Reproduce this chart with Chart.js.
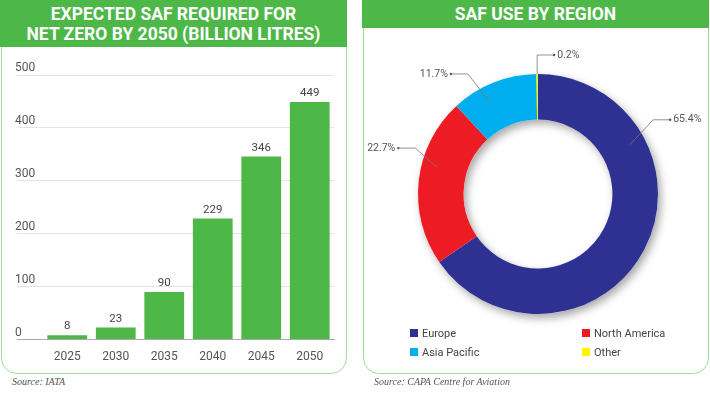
<!DOCTYPE html>
<html>
<head>
<meta charset="utf-8">
<script src="https://cdn.jsdelivr.net/npm/chart.js@4.4.1/dist/chart.umd.min.js"></script>
<style>
  body { margin: 0; width: 710px; height: 394px; background: #fff; position: relative; overflow: hidden; font-family: Roboto, sans-serif; }
  .panel { position: absolute; top: 0; height: 374px; border: 1.5px solid #a5da9f; border-radius: 0 0 16px 16px; box-sizing: border-box; }
  .head { position: absolute; top: 0; background: #4db848; color: #fff; font-weight: 700; text-align: center; font-size: 17.5px; }
  #leftHead { left: 0; width: 347px; height: 47px; line-height: 20px; padding-top: 4px; box-sizing: border-box; }
  #rightHead { left: 362px; width: 347px; height: 28px; line-height: 28px; }
  canvas { position: absolute; }
  .source { position: absolute; top: 376px; font: italic 10px "Liberation Serif", serif; color: #555; }
  #legend { position: absolute; left: 410px; top: 326px; display: grid; grid-template-columns: 172px 120px; row-gap: 5px; font-size: 11px; color: #444; }
  #legend div { display: flex; align-items: center; height: 14px; }
  #legend span { display: inline-block; width: 8px; height: 8px; margin-right: 4px; }
</style>
</head>
<body>
<div class="panel" style="left:1px; width:346px;"></div>
<div class="panel" style="left:363px; width:346px;"></div>
<div class="head" id="leftHead">EXPECTED SAF REQUIRED FOR<br>NET ZERO BY 2050 (BILLION LITRES)</div>
<div class="head" id="rightHead">SAF USE BY REGION</div>
<canvas id="bars" width="347" height="325" style="left:0; top:48px;"></canvas>
<canvas id="ring" width="346" height="300" style="left:362px; top:28px;"></canvas>
<div id="legend"></div>
<div class="source" style="left:12px;">Source: IATA</div>
<div class="source" style="left:374px;">Source: CAPA Centre for Aviation</div>
<script>
// Données
const years = ['2025', '2030', '2035', '2040', '2045', '2050'];
const safBillionLitres = [8, 23, 90, 229, 346, 449];

const regions = ['Europe', 'North America', 'Asia Pacific', 'Other'];
const regionShare = [65.4, 22.7, 11.7, 0.2];
const regionColours = ['#2e3192', '#ed1c24', '#00aeef', '#fff200'];

const font = 'Roboto';

// valeurs au-dessus des barres
const barValues = {
  id: 'barValues',
  afterDatasetsDraw(chart) {
    const ctx = chart.ctx;
    const data = chart.data.datasets[0].data;
    ctx.save();
    ctx.font = '11.5px ' + font;
    ctx.fillStyle = '#444';
    ctx.textAlign = 'center';
    ctx.textBaseline = 'bottom';
    chart.getDatasetMeta(0).data.forEach((bar, i) => {
      ctx.fillText(data[i], bar.x, bar.y - 3);
    });
    ctx.restore();
  }
};

new Chart(document.getElementById('bars'), {
  type: 'bar',
  data: {
    labels: years,
    datasets: [{
      data: safBillionLitres,
      backgroundColor: '#4db848',
      categoryPercentage: 0.82,
      barPercentage: 1
    }]
  },
  options: {
    responsive: false,
    animation: false,
    layout: { padding: { left: 15, right: 13, top: 27, bottom: 7 } },
    plugins: { legend: { display: false }, tooltip: { enabled: false } },
    scales: {
      x: {
        grid: { display: false },
        border: { color: '#aaa' },
        ticks: { color: '#555', font: { family: font, size: 12 }, padding: 2 }
      },
      y: {
        min: 0,
        max: 500,
        afterFit: s => { s.width = 28; },
        border: { display: false },
        grid: {
          color: c => c.tick && c.tick.value === 0 ? '#aaa' : '#e4e4e4',
          tickLength: 26
        },
        ticks: {
          stepSize: 100,
          color: '#555',
          font: { family: font, size: 12 },
          crossAlign: 'far',
          labelOffset: -7,
          padding: 0
        }
      }
    }
  },
  plugins: [barValues]
});

// ombre sous l'anneau
const ringShadow = {
  id: 'ringShadow',
  beforeDatasetsDraw(chart) {
    const arc = chart.getDatasetMeta(0).data[0];
    const ctx = chart.ctx;
    ctx.save();
    ctx.shadowColor = 'rgba(0,0,0,0.35)';
    ctx.shadowBlur = 9;
    ctx.shadowOffsetX = 3;
    ctx.shadowOffsetY = 4;
    ctx.beginPath();
    ctx.arc(arc.x, arc.y, arc.outerRadius, 0, 2 * Math.PI);
    ctx.arc(arc.x, arc.y, arc.innerRadius, 0, 2 * Math.PI, true);
    ctx.fillStyle = '#fff';
    ctx.fill();
    ctx.restore();
  }
};

// étiquettes avec traits
const leaderLines = {
  id: 'leaderLines',
  afterDatasetsDraw(chart, args, opts) {
    const ctx = chart.ctx;
    ctx.save();
    ctx.strokeStyle = '#777';
    ctx.fillStyle = '#555';
    ctx.lineWidth = 0.8;
    ctx.font = '10.5px ' + font;
    ctx.textBaseline = 'middle';
    chart.getDatasetMeta(0).data.forEach((arc, i) => {
      const span = arc.endAngle - arc.startAngle;
      const a0 = arc.startAngle + opts.anchor[i] * span;
      const a1 = arc.startAngle + opts.elbow[i] * span;
      const w = arc.outerRadius - arc.innerRadius;
      const r0 = regionShare[i] < 1 ? arc.outerRadius : arc.innerRadius + 0.66 * w;
      const r1 = arc.outerRadius + opts.reach[i];
      const x0 = arc.x + Math.cos(a0) * r0, y0 = arc.y + Math.sin(a0) * r0;
      const x1 = arc.x + Math.cos(a1) * r1, y1 = arc.y + Math.sin(a1) * r1;
      const x2 = x1 + opts.side[i] * 17;
      ctx.beginPath();
      ctx.moveTo(x0, y0);
      ctx.lineTo(x1, y1);
      ctx.lineTo(x2, y1);
      ctx.stroke();
      ctx.beginPath();
      ctx.arc(x2, y1, 1.2, 0, 2 * Math.PI);
      ctx.fill();
      ctx.textAlign = opts.side[i] > 0 ? 'left' : 'right';
      ctx.fillText(regionShare[i].toFixed(1) + '%', x2 + opts.side[i] * 3, y1);
    });
    ctx.restore();
  }
};

new Chart(document.getElementById('ring'), {
  type: 'doughnut',
  data: {
    labels: regions,
    datasets: [{
      data: regionShare,
      backgroundColor: regionColours,
      borderWidth: 0
    }]
  },
  options: {
    responsive: false,
    animation: false,
    cutout: '62%',
    layout: { padding: { left: 56, right: 50, top: 46, bottom: 14 } },
    plugins: {
      legend: { display: false },
      tooltip: { enabled: false },
      leaderLines: {
        anchor: [0.262, 0.604, 0.357, 0.5],
        elbow: [0.243, 0.674, 0.298, 0.5],
        reach: [17, 11, 19, 19],
        side: [1, -1, -1, 1]
      }
    }
  },
  plugins: [ringShadow, leaderLines]
});

// légende HTML
const legend = document.getElementById('legend');
regions.forEach((name, i) => {
  legend.insertAdjacentHTML('beforeend',
    `<div><span style="background:${regionColours[i]}"></span>${name}</div>`);
});
</script>
</body>
</html>
